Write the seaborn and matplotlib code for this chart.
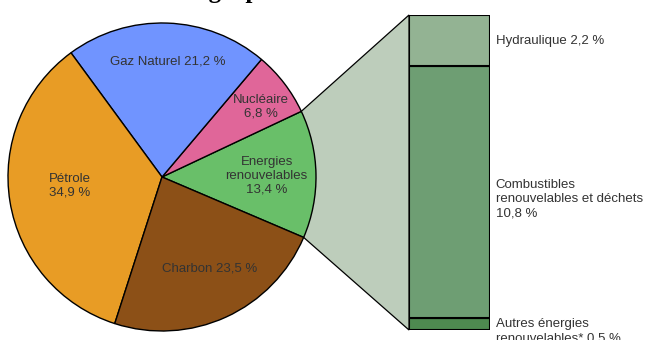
import matplotlib
matplotlib.use("Agg")
import matplotlib.pyplot as plt
import seaborn as sns
import numpy as np
from matplotlib.patches import Polygon

# ---------------- data ----------------
title_text = "Énergie primaire dans le monde"
pie_labels = ["Energies\nrenouvelables", "Nucléaire", "Gaz Naturel", "Pétrole", "Charbon"]
pie_values = [13.4, 6.8, 21.2, 34.9, 23.5]
pie_colors = ["#69BF69", "#E06699", "#7094FF", "#E89C25", "#8C5017"]

renew_labels = ["Autres énergies\nrenouvelables*", "Combustibles\nrenouvelables et déchets", "Hydraulique"]
renew_values = [0.5, 10.8, 2.2]
renew_colors = ["#4E8A50", "#6E9E73", "#93B393"]

# ---------------- style ----------------
sns.set_theme(style="white")
plt.rcParams["font.family"] = ["Liberation Sans", "DejaVu Sans"]
TXT = "#333333"
FS = 9.5

def fmt(v):
    return f"{v:.1f}".replace(".", ",") + " %"

W, H = 646, 340
fig = plt.figure(figsize=(W / 100, H / 100), dpi=100)
fig.patch.set_facecolor("white")

# pie axes (square box in pixels)
cx, cy, r = 162, 177, 154
ax_pie = fig.add_axes([(cx - r) / W, (H - cy - r) / H, 2 * r / W, 2 * r / H])
wedges, _ = ax_pie.pie(pie_values, colors=pie_colors, startangle=-23.1, counterclock=True,
                       radius=1, wedgeprops=dict(edgecolor="black", linewidth=1.0))
ax_pie.set_xlim(-1, 1)
ax_pie.set_ylim(-1, 1)
ax_pie.set_facecolor("none")
ax_pie.axis("off")

# label positions (fraction of radius, angle in degrees) and line separators
label_pos = [(0.68, 0.5), (0.79, 35.3), (0.75, 87.0), (0.60, 185.6), (0.67, -62.2)]
label_sep = ["\n", "\n", " ", "\n", " "]
for lab, v, (rr, ang), sep in zip(pie_labels, pie_values, label_pos, label_sep):
    a = np.deg2rad(ang)
    ax_pie.text(rr * np.cos(a), rr * np.sin(a), f"{lab}{sep}{fmt(v)}", ha="center", va="center",
                fontsize=FS, color=TXT, linespacing=1.2)

# stacked bar axes
bx0, bx1, by0, by1 = 409, 490, 15, 330
ax_bar = fig.add_axes([bx0 / W, (H - by1) / H, (bx1 - bx0) / W, (by1 - by0) / H])
total = sum(renew_values)
bottoms = np.concatenate([[0], np.cumsum(renew_values)[:-1]])
for lab, v, b, c in zip(renew_labels, renew_values, bottoms, renew_colors):
    sns.barplot(x=["r"], y=[v], bottom=b, width=1.0, color=c, edgecolor="black",
                linewidth=1.5, errorbar=None, ax=ax_bar, saturation=1)
ax_bar.set_xlim(-0.5, 0.5)
ax_bar.set_ylim(0, total)
ax_bar.set_facecolor("none")
ax_bar.axis("off")

# right-hand labels
label_mode = ["top", "center", "center"]
label_dy = [0, -5, 0]
for lab, v, b, mode, dy in zip(renew_labels, renew_values, bottoms, label_mode, label_dy):
    sep = " " if lab.count("\n") < 1 or "Autres" in lab else "\n"
    text = f"{lab}{sep}{fmt(v)}"
    y = b + v if mode == "top" else b + v / 2
    ax_bar.annotate(text, xy=(0.5, y), xytext=(4.0, dy), textcoords="offset points",
                    ha="left", va=mode, fontsize=FS, color=TXT, linespacing=1.2,
                    annotation_clip=False)

# connection polygon from the renewables wedge to the bar
ax_pie.apply_aspect()
w = wedges[0]
t1, t2 = np.deg2rad(w.theta1), np.deg2rad(w.theta2)
p_top = ax_pie.transData.transform((np.cos(t2), np.sin(t2)))
p_bot = ax_pie.transData.transform((np.cos(t1), np.sin(t1)))
b_top = ax_bar.transData.transform((-0.5, total))
b_bot = ax_bar.transData.transform((-0.5, 0))
inv = fig.transFigure.inverted()
pts = inv.transform(np.array([p_top, b_top, b_bot, p_bot]))
poly = Polygon(pts, closed=True, transform=fig.transFigure, facecolor="#BDCDBB",
               edgecolor="black", linewidth=0.9, zorder=-1)
fig.patches.append(poly)

# title (only its lower part lies inside the canvas)
fig.text(156 / W, 1.0 + 2.0 / H, title_text, ha="left", va="baseline", fontsize=18, fontweight="bold",
         family=["Liberation Serif", "DejaVu Serif"], color="black")

fig.savefig("out.png", dpi=100)
